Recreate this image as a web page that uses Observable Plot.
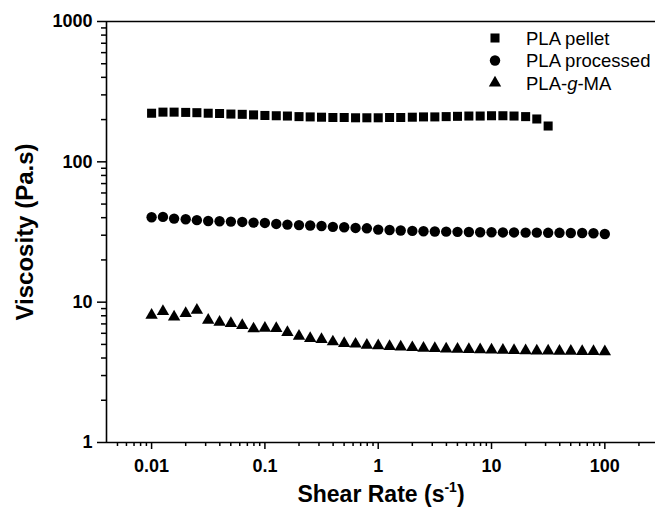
<!DOCTYPE html>
<html>
<head>
<meta charset="utf-8">
<script src="https://cdn.jsdelivr.net/npm/d3@7"></script>
<script src="https://cdn.jsdelivr.net/npm/@observablehq/plot@0.6"></script>
<style>
  html, body { margin: 0; padding: 0; background: #fff; }
  #wrap { position: relative; width: 655px; height: 508px; font-family: "Liberation Sans", Arial, sans-serif; }
  #wrap svg [aria-label="x-axis tick label"] text,
  #wrap svg [aria-label="y-axis tick label"] text { font-weight: bold; font-size: 18px; }
  #wrap svg [aria-label="x-axis tick"], #wrap svg [aria-label="y-axis tick"] { stroke-width: 1.5px; }
  #legend { position: absolute; left: 0; top: 0; pointer-events: none; }
</style>
</head>
<body>
<div id="wrap"></div>
<script>
// Shear rates (s^-1), 10 points per decade
const shearRates = [0.01, 0.0126, 0.0158, 0.02, 0.0251, 0.0316, 0.0398, 0.0501, 0.0631, 0.0794,
  0.1, 0.126, 0.158, 0.2, 0.251, 0.316, 0.398, 0.501, 0.631, 0.794,
  1, 1.26, 1.58, 2, 2.51, 3.16, 3.98, 5.01, 6.31, 7.94,
  10, 12.6, 15.8, 20, 25.1, 31.6, 39.8, 50.1, 63.1, 79.4, 100];

// Viscosity (Pa.s)
const pelletValues = [222, 226, 226, 225, 224, 222, 221, 219, 218, 216,
  214, 213, 212, 210, 209, 208, 207, 207, 206, 206,
  206, 207, 207, 208, 209, 209, 210, 211, 212, 212,
  213, 213, 212, 210, 202, 180];
const processedValues = [40.3, 40.5, 39.4, 39.0, 38.4, 37.9, 37.7, 37.5, 37.3, 36.9,
  36.7, 36.1, 35.7, 35.4, 35.2, 34.9, 34.4, 34.2, 33.8, 33.6,
  32.9, 32.7, 32.4, 32.2, 32.0, 31.9, 31.8, 31.7, 31.6, 31.5,
  31.5, 31.4, 31.4, 31.3, 31.3, 31.2, 31.2, 31.1, 31.1, 31.0, 30.6];
const gmaValues = [8.08, 8.6, 7.86, 8.3, 8.77, 7.44, 7.2, 7.05, 6.83, 6.46,
  6.53, 6.5, 6.08, 5.73, 5.52, 5.43, 5.22, 5.08, 5.03, 4.94,
  4.89, 4.84, 4.8, 4.75, 4.7, 4.68, 4.65, 4.62, 4.6, 4.58,
  4.56, 4.55, 4.53, 4.52, 4.5, 4.5, 4.48, 4.47, 4.46, 4.45, 4.44];

const seriesNames = ["PLA pellet", "PLA processed", "PLA-g-MA"];
const seriesSymbols = ["square", "circle", "triangle"];

const xDomain = [0.004, 280];
const yDomain = [1, 1000];
const xMajorTicks = [0.01, 0.1, 1, 10, 100];
const xTickLabels = ["0.01", "0.1", "1", "10", "100"];
const xMinorTicks = [0.005, 0.006, 0.007, 0.008, 0.009,
  0.02, 0.03, 0.04, 0.05, 0.06, 0.07, 0.08, 0.09,
  0.2, 0.3, 0.4, 0.5, 0.6, 0.7, 0.8, 0.9,
  2, 3, 4, 5, 6, 7, 8, 9,
  20, 30, 40, 50, 60, 70, 80, 90, 200];
const yMajorTicks = [1, 10, 100, 1000];
const yTickLabels = ["1", "10", "100", "1000"];
const yMinorTicks = [2, 3, 4, 5, 6, 7, 8, 9, 20, 30, 40, 50, 60, 70, 80, 90,
  200, 300, 400, 500, 600, 700, 800, 900];

const pellet = pelletValues.map((v, i) => ({rate: shearRates[i], visc: v}));
const processed = processedValues.map((v, i) => ({rate: shearRates[i], visc: v}));
const gma = gmaValues.map((v, i) => ({rate: shearRates[i], visc: v}));

const chart = Plot.plot({
  width: 655,
  height: 508,
  marginLeft: 106,
  marginRight: 0,
  marginTop: 21,
  marginBottom: 66,
  style: {fontFamily: "'Liberation Sans', Arial, sans-serif", background: "white", color: "black", overflow: "visible"},
  x: {type: "log", domain: xDomain, label: null},
  y: {type: "log", domain: yDomain, label: null},
  marks: [
    Plot.axisX({ticks: xMinorTicks, tickSize: 4, tickFormat: () => "", label: null}),
    Plot.axisX({ticks: xMajorTicks, tickSize: 7, tickPadding: 10, fontSize: 18, fontWeight: "bold",
      tickFormat: d => xTickLabels[xMajorTicks.indexOf(d)], label: null}),
    Plot.axisY({ticks: yMinorTicks, tickSize: 5, tickFormat: () => "", label: null}),
    Plot.axisY({ticks: yMajorTicks, tickSize: 9, tickPadding: 5, fontSize: 18, fontWeight: "bold",
      tickFormat: d => yTickLabels[yMajorTicks.indexOf(d)], label: null}),
    Plot.ruleX([xDomain[0]], {strokeWidth: 1.6}),
    Plot.ruleY([yDomain[0]], {strokeWidth: 1.6}),
    Plot.ruleY([yDomain[1]], {strokeWidth: 1.6}),
    Plot.dot(pellet, {x: "rate", y: "visc", symbol: seriesSymbols[0], r: 5.1, fill: "black", stroke: "none"}),
    Plot.dot(processed, {x: "rate", y: "visc", symbol: seriesSymbols[1], r: 5.2, fill: "black", stroke: "none"}),
    Plot.dot(gma, {x: "rate", y: "visc", symbol: seriesSymbols[2], r: 4.6, fill: "black", stroke: "none"})
  ]
});

const svg = d3.select(chart);
// X axis title with superscript
const xt = svg.append("text")
  .attr("x", 381).attr("y", 502)
  .attr("text-anchor", "middle")
  .style("font-family", "'Liberation Sans', Arial, sans-serif")
  .style("font-weight", "bold").style("font-size", "23px").attr("fill", "black");
xt.append("tspan").text("Shear Rate (s");
xt.append("tspan").attr("dy", -10).style("font-size", "14px").text("-1");
xt.append("tspan").attr("dy", 10).text(")");
// Y axis title
svg.append("text")
  .attr("transform", "translate(33,232) rotate(-90)")
  .attr("text-anchor", "middle")
  .style("font-family", "'Liberation Sans', Arial, sans-serif")
  .style("font-weight", "bold").style("font-size", "24px").attr("fill", "black")
  .text("Viscosity (Pa.s)");

document.getElementById("wrap").appendChild(chart);

// Legend overlay
const legendSymbols = [d3.symbolSquare, d3.symbolCircle, d3.symbolTriangle];
const legendR = [5.1, 5.2, 4.6];
const legend = d3.select("#wrap").append("svg")
  .attr("id", "legend").attr("width", 655).attr("height", 508);
seriesNames.forEach((name, i) => {
  const g = legend.append("g").attr("transform", `translate(495,${38 + i * 22.5})`);
  g.append("path").attr("d", d3.symbol(legendSymbols[i], Math.PI * legendR[i] * legendR[i])()).attr("fill", "black");
  const t = g.append("text").attr("x", 31).attr("y", 6.5)
    .style("font-family", "'Liberation Sans', Arial, sans-serif").style("font-size", "18.5px").attr("fill", "black");
  if (name === "PLA-g-MA") {
    t.append("tspan").text("PLA-");
    t.append("tspan").style("font-style", "italic").text("g");
    t.append("tspan").text("-MA");
  } else {
    t.text(name);
  }
});
</script>
</body>
</html>
